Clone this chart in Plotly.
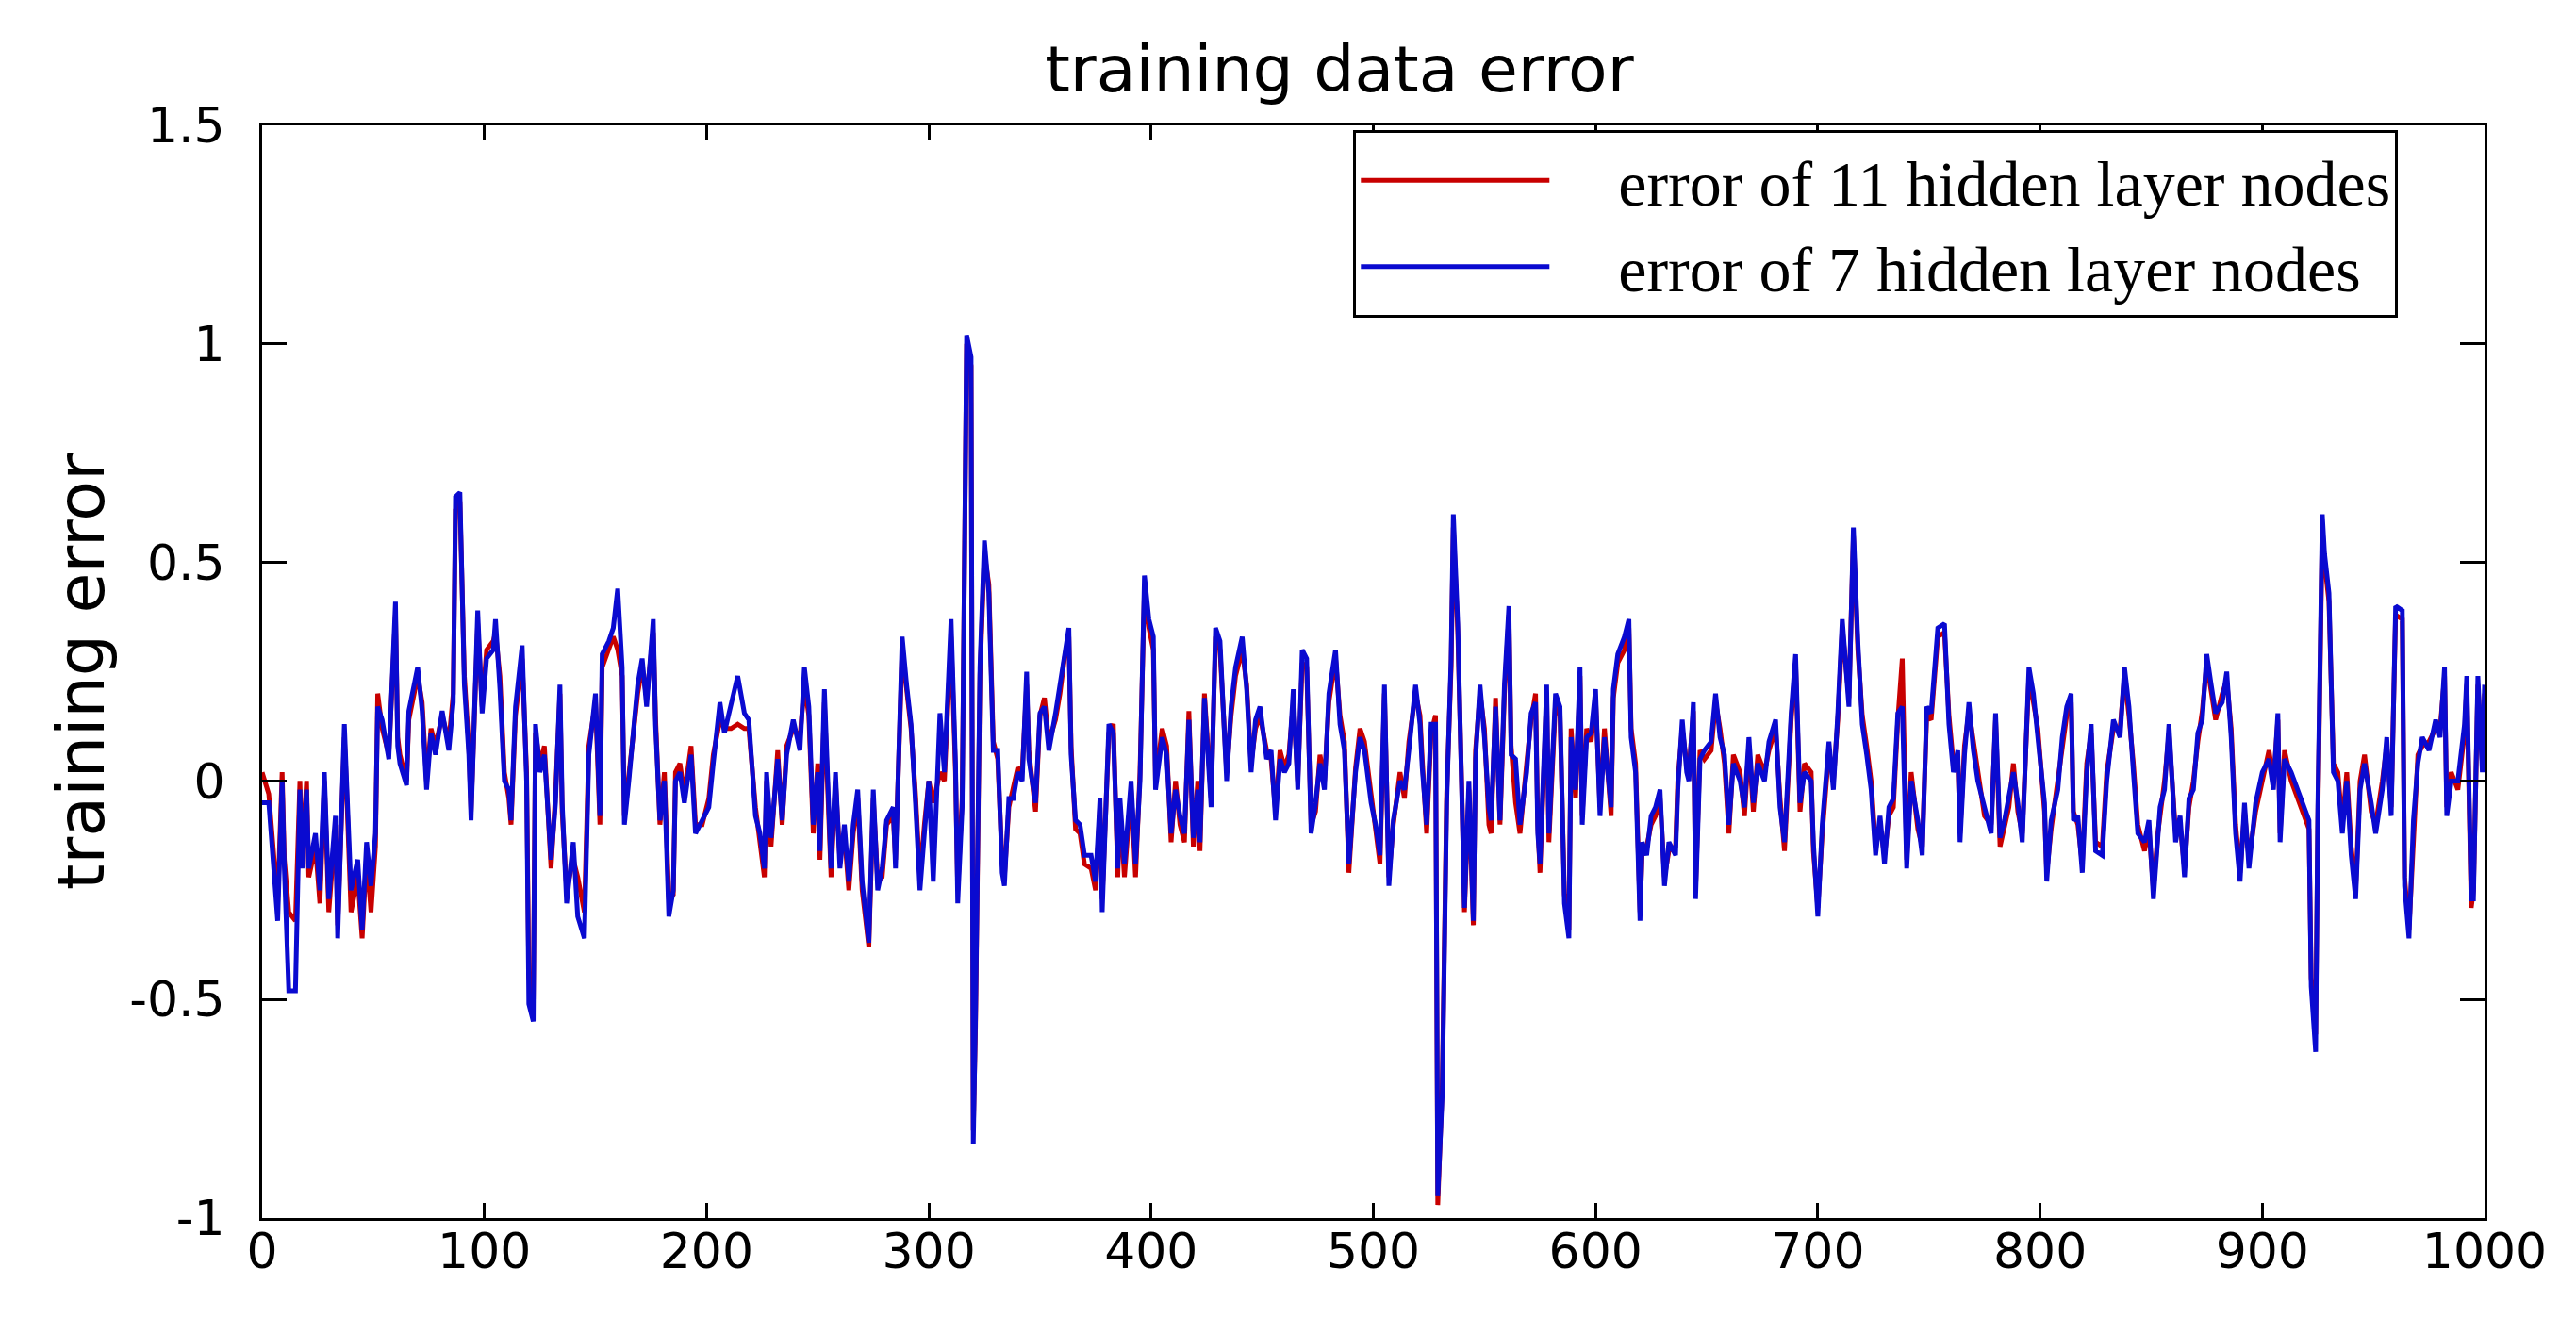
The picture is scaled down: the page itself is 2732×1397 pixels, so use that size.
import plotly.graph_objects as go

# sample index (x)
sample_idx = [
    0, 3, 7, 9, 10, 12, 15, 17, 18, 20,
    21, 24, 26, 28, 30, 33, 34, 37, 38, 40,
    43, 45, 47, 49, 51, 52, 54, 57, 60, 61,
    62, 65, 66, 70, 72, 74, 76, 78, 81, 84,
    86, 87, 89, 91, 93, 94, 97, 99, 101, 104,
    105, 107, 109, 111, 112, 114, 117, 119, 120, 122,
    123, 125, 127, 130, 132, 134, 135, 137, 140, 142,
    145, 147, 150, 152, 153, 156, 158, 160, 162, 163,
    165, 167, 169, 171, 173, 176, 177, 179, 181, 183,
    185, 186, 188, 190, 193, 195, 198, 201, 203, 206,
    208, 211, 214, 217, 219, 222, 224, 226, 227, 229,
    232, 234, 236, 239, 242, 244, 246, 248, 250, 251,
    253, 256, 258, 260, 262, 264, 266, 268, 270, 273,
    275, 277, 279, 281, 284, 285, 288, 290, 292, 294,
    296, 298, 300, 302, 305, 307, 310, 312, 313, 315,
    317, 319, 320, 321, 323, 325, 327, 329, 331, 333,
    334, 336, 338, 340, 342, 344, 345, 348, 350, 352,
    354, 357, 359, 361, 363, 364, 366, 368, 370, 373,
    375, 377, 378, 381, 383, 385, 386, 388, 391, 393,
    395, 397, 399, 401, 402, 405, 407, 409, 411, 413,
    415, 417, 419, 421, 422, 424, 427, 429, 431, 434,
    436, 438, 441, 443, 445, 447, 449, 452, 454, 456,
    458, 460, 462, 464, 466, 468, 470, 472, 474, 476,
    478, 480, 483, 485, 487, 489, 492, 494, 496, 499,
    501, 503, 505, 507, 509, 512, 514, 516, 519, 521,
    522, 524, 526, 528, 529, 531, 533, 535, 536, 538,
    540, 541, 543, 545, 546, 548, 550, 552, 553, 555,
    557, 559, 561, 562, 564, 566, 569, 571, 573, 574,
    575, 578, 579, 582, 584, 586, 588, 589, 591, 593,
    594, 596, 598, 600, 602, 604, 607, 608, 610, 613,
    615, 616, 618, 620, 621, 623, 625, 627, 629, 631,
    633, 636, 637, 639, 641, 642, 644, 645, 647, 649,
    652, 654, 656, 658, 660, 662, 665, 667, 669, 671,
    673, 676, 678, 681, 683, 685, 688, 690, 692, 694,
    697, 698, 700, 702, 705, 707, 709, 711, 714, 716,
    718, 720, 722, 724, 726, 728, 730, 732, 734, 736,
    738, 740, 742, 745, 747, 749, 751, 754, 757, 759,
    761, 763, 764, 766, 768, 770, 772, 775, 778, 780,
    782, 784, 786, 788, 790, 792, 795, 797, 799, 802,
    803, 805, 808, 810, 812, 814, 815, 817, 819, 821,
    823, 825, 828, 830, 833, 836, 838, 840, 842, 844,
    847, 849, 851, 853, 854, 856, 858, 861, 863, 865,
    867, 869, 871, 873, 875, 877, 879, 882, 884, 886,
    888, 890, 892, 894, 897, 900, 903, 905, 907, 908,
    910, 913, 916, 918, 921, 922, 924, 925, 927, 928,
    930, 932, 934, 936, 938, 940, 942, 944, 946, 949,
    951, 954, 956, 958, 960, 963, 964, 966, 968, 970,
    972, 975, 978, 980, 982, 983, 985, 988, 991, 992,
    994, 995, 997, 999, 1000,
]

# error of 11 hidden layer nodes (red)
err_11_nodes = [
    0.02, -0.03, -0.28, 0.02, -0.18, -0.3, -0.32, 0.0, -0.18, 0.0,
    -0.22, -0.15, -0.28, 0.0, -0.3, -0.1, -0.33, 0.1, -0.02, -0.3,
    -0.22, -0.36, -0.17, -0.3, -0.15, 0.2, 0.12, 0.06, 0.38, 0.1,
    0.06, 0.0, 0.14, 0.24, 0.18, 0.0, 0.12, 0.08, 0.15, 0.09,
    0.2, 0.62, 0.64, 0.24, 0.08, -0.07, 0.36, 0.17, 0.3, 0.32,
    0.34, 0.24, 0.02, -0.04, -0.1, 0.15, 0.28, 0.02, -0.45, -0.5,
    0.11, 0.04, 0.08, -0.2, -0.03, 0.2, -0.07, -0.25, -0.18, -0.22,
    -0.3, 0.08, 0.18, -0.1, 0.26, 0.3, 0.33, 0.3, 0.24, -0.08,
    0.02, 0.12, 0.2, 0.26, 0.19, 0.34, 0.15, -0.1, 0.02, -0.27,
    -0.26, 0.02, 0.04, -0.03, 0.08, -0.1, -0.1, -0.04, 0.06, 0.14,
    0.12, 0.12, 0.13, 0.12, 0.12, -0.06, -0.14, -0.22, 0.0, -0.15,
    0.07, -0.1, 0.08, 0.12, 0.1, 0.22, 0.15, -0.12, 0.04, -0.18,
    0.18, -0.22, 0.0, -0.18, -0.12, -0.25, -0.12, -0.04, -0.25, -0.38,
    -0.04, -0.23, -0.22, -0.1, -0.08, -0.18, 0.3, 0.2, 0.12, -0.03,
    -0.22, -0.1, 0.0, -0.05, 0.02, 0.0, 0.33, 0.02, -0.25, -0.04,
    1.0, 0.95, -0.8, -0.56, 0.24, 0.52, 0.45, 0.09, 0.05, -0.19,
    -0.22, -0.06, -0.02, 0.03, 0.02, 0.22, 0.07, -0.07, 0.15, 0.19,
    0.09, 0.14, 0.2, 0.28, 0.33, 0.08, -0.11, -0.12, -0.19, -0.2,
    -0.25, -0.06, -0.27, 0.11, 0.13, -0.22, -0.06, -0.22, -0.02, -0.22,
    0.02, 0.44, 0.35, 0.3, 0.0, 0.12, 0.08, -0.14, 0.0, -0.1,
    -0.14, 0.16, -0.15, 0.0, -0.16, 0.2, -0.04, 0.33, 0.3, 0.02,
    0.15, 0.24, 0.3, 0.22, 0.04, 0.12, 0.15, 0.07, 0.05, -0.07,
    0.07, 0.03, 0.06, 0.18, 0.0, 0.27, 0.26, -0.1, -0.07, 0.06,
    0.0, 0.18, 0.28, 0.15, 0.09, -0.21, 0.03, 0.12, 0.09, -0.03,
    -0.12, -0.19, 0.2, -0.22, -0.1, 0.02, -0.04, 0.09, 0.2, 0.15,
    0.05, -0.12, 0.11, 0.15, -0.97, -0.7, -0.03, 0.26, 0.58, 0.34,
    -0.06, -0.3, -0.02, -0.33, 0.07, 0.2, 0.12, -0.1, -0.12, 0.19,
    -0.1, 0.2, 0.38, 0.08, -0.05, -0.12, 0.04, 0.14, 0.2, -0.1,
    -0.21, 0.2, -0.14, 0.18, 0.15, -0.26, -0.34, 0.12, -0.04, 0.24,
    -0.08, 0.12, 0.09, 0.19, -0.06, 0.12, -0.08, 0.19, 0.27, 0.3,
    0.35, 0.12, 0.04, -0.3, -0.16, -0.15, -0.1, -0.08, -0.04, -0.22,
    -0.16, -0.15, 0.0, 0.12, 0.04, 0.02, 0.16, -0.25, 0.07, 0.05,
    0.07, 0.18, 0.12, 0.04, -0.12, 0.06, 0.02, -0.08, 0.08, -0.07,
    0.06, 0.02, 0.07, 0.12, -0.04, -0.16, 0.14, 0.27, -0.07, 0.04,
    0.02, -0.16, -0.29, -0.12, 0.07, 0.0, 0.14, 0.35, 0.19, 0.56,
    0.3, 0.15, 0.08, 0.0, -0.15, -0.1, -0.17, -0.08, -0.06, 0.14,
    0.28, -0.18, 0.02, -0.11, -0.15, 0.15, 0.14, 0.33, 0.34, 0.15,
    0.04, 0.05, -0.12, 0.08, 0.16, 0.09, 0.02, -0.08, -0.1, 0.14,
    -0.15, -0.11, -0.06, 0.04, -0.07, -0.12, 0.24, 0.18, 0.12, -0.07,
    -0.21, -0.11, 0.0, 0.08, 0.15, 0.18, -0.07, -0.1, -0.19, 0.04,
    0.11, -0.14, -0.15, 0.02, 0.12, 0.12, 0.24, 0.15, 0.04, -0.1,
    -0.16, -0.11, -0.25, -0.12, -0.08, 0.0, 0.11, -0.12, -0.1, -0.2,
    -0.06, 0.0, 0.09, 0.16, 0.27, 0.2, 0.14, 0.2, 0.23, 0.12,
    -0.1, -0.21, -0.07, -0.18, -0.07, 0.0, 0.07, 0.0, 0.14, -0.12,
    0.07, 0.0, -0.04, -0.07, -0.11, -0.45, -0.58, -0.08, 0.58, 0.5,
    0.41, 0.04, 0.02, -0.1, 0.02, -0.15, -0.25, 0.0, 0.06, -0.07,
    -0.1, 0.0, 0.08, -0.06, 0.38, 0.37, -0.22, -0.34, -0.11, 0.06,
    0.08, 0.09, 0.12, 0.12, 0.24, -0.06, 0.02, -0.02, 0.11, 0.22,
    -0.29, -0.25, 0.22, 0.04, 0.2,
]

# error of 7 hidden layer nodes (blue)
err_7_nodes = [
    -0.05, -0.05, -0.32, 0.0, -0.2, -0.48, -0.48, -0.02, -0.2, -0.02,
    -0.2, -0.12, -0.25, 0.02, -0.27, -0.08, -0.36, 0.13, 0.0, -0.25,
    -0.18, -0.34, -0.14, -0.24, -0.12, 0.17, 0.14, 0.05, 0.41, 0.08,
    0.04, -0.01, 0.16, 0.26, 0.16, -0.02, 0.11, 0.06, 0.16, 0.07,
    0.18, 0.65, 0.66, 0.22, 0.06, -0.09, 0.39, 0.155, 0.28, 0.3,
    0.37, 0.21, 0.0, -0.02, -0.09, 0.17, 0.31, 0.0, -0.51, -0.55,
    0.13, 0.02, 0.06, -0.18, -0.05, 0.22, -0.05, -0.28, -0.14, -0.31,
    -0.36, 0.06, 0.2, -0.08, 0.29, 0.32, 0.35, 0.44, 0.26, -0.1,
    0.0, 0.1, 0.22, 0.28, 0.17, 0.37, 0.13, -0.09, 0.0, -0.31,
    -0.25, 0.0, 0.02, -0.05, 0.06, -0.12, -0.09, -0.06, 0.04, 0.18,
    0.11, 0.18, 0.24, 0.155, 0.14, -0.08, -0.12, -0.2, 0.02, -0.13,
    0.05, -0.09, 0.06, 0.14, 0.07, 0.26, 0.17, -0.1, 0.02, -0.16,
    0.21, -0.2, 0.02, -0.2, -0.1, -0.23, -0.1, -0.02, -0.23, -0.37,
    -0.02, -0.25, -0.2, -0.09, -0.06, -0.2, 0.33, 0.22, 0.13, -0.05,
    -0.25, -0.12, 0.0, -0.23, 0.155, 0.02, 0.37, 0.04, -0.28, -0.06,
    1.02, 0.97, -0.83, -0.54, 0.26, 0.55, 0.43, 0.07, 0.07, -0.21,
    -0.24, -0.04, -0.04, 0.02, 0.0, 0.25, 0.05, -0.05, 0.155, 0.17,
    0.07, 0.155, 0.22, 0.3, 0.35, 0.06, -0.09, -0.1, -0.17, -0.17,
    -0.23, -0.04, -0.3, 0.13, 0.11, -0.2, -0.04, -0.19, 0.0, -0.19,
    0.0, 0.47, 0.37, 0.33, -0.02, 0.1, 0.06, -0.12, -0.02, -0.08,
    -0.12, 0.14, -0.13, -0.02, -0.14, 0.19, -0.06, 0.35, 0.32, 0.0,
    0.17, 0.26, 0.33, 0.21, 0.02, 0.14, 0.17, 0.05, 0.07, -0.09,
    0.05, 0.02, 0.04, 0.21, -0.02, 0.3, 0.28, -0.12, -0.05, 0.04,
    -0.02, 0.2, 0.3, 0.13, 0.07, -0.19, 0.02, 0.1, 0.07, -0.05,
    -0.1, -0.17, 0.22, -0.24, -0.09, 0.0, -0.02, 0.07, 0.22, 0.13,
    0.03, -0.1, 0.13, 0.13, -0.95, -0.72, -0.05, 0.28, 0.61, 0.36,
    -0.08, -0.29, 0.0, -0.32, 0.05, 0.22, 0.1, -0.06, -0.09, 0.17,
    -0.09, 0.22, 0.4, 0.06, 0.05, -0.1, 0.02, 0.155, 0.18, -0.12,
    -0.19, 0.22, -0.12, 0.2, 0.17, -0.28, -0.36, 0.1, -0.02, 0.26,
    -0.1, 0.1, 0.11, 0.21, -0.08, 0.1, -0.06, 0.21, 0.29, 0.33,
    0.37, 0.1, 0.02, -0.32, -0.14, -0.17, -0.08, -0.06, -0.02, -0.24,
    -0.14, -0.17, -0.02, 0.14, 0.02, 0.0, 0.18, -0.27, 0.05, 0.07,
    0.09, 0.2, 0.1, 0.06, -0.1, 0.04, 0.0, -0.06, 0.1, -0.05,
    0.04, 0.0, 0.09, 0.14, -0.06, -0.14, 0.155, 0.29, -0.05, 0.02,
    0.0, -0.14, -0.31, -0.1, 0.09, -0.02, 0.155, 0.37, 0.17, 0.58,
    0.32, 0.13, 0.06, -0.02, -0.17, -0.08, -0.19, -0.06, -0.04, 0.155,
    0.17, -0.2, 0.0, -0.09, -0.17, 0.17, 0.155, 0.35, 0.36, 0.13,
    0.02, 0.07, -0.14, 0.06, 0.18, 0.07, 0.0, -0.06, -0.12, 0.155,
    -0.13, -0.09, -0.04, 0.02, -0.05, -0.14, 0.26, 0.2, 0.1, -0.05,
    -0.23, -0.09, -0.02, 0.1, 0.17, 0.2, -0.09, -0.08, -0.21, 0.02,
    0.13, -0.16, -0.17, 0.0, 0.14, 0.1, 0.26, 0.17, 0.02, -0.12,
    -0.14, -0.09, -0.27, -0.14, -0.06, -0.02, 0.13, -0.14, -0.08, -0.22,
    -0.04, -0.02, 0.11, 0.14, 0.29, 0.22, 0.155, 0.18, 0.25, 0.1,
    -0.12, -0.23, -0.05, -0.2, -0.05, 0.02, 0.05, -0.02, 0.155, -0.14,
    0.05, 0.02, -0.02, -0.05, -0.09, -0.47, -0.62, -0.06, 0.61, 0.52,
    0.43, 0.02, 0.0, -0.12, 0.0, -0.17, -0.27, -0.02, 0.04, -0.05,
    -0.12, -0.02, 0.1, -0.08, 0.4, 0.39, -0.24, -0.36, -0.09, 0.04,
    0.1, 0.07, 0.14, 0.1, 0.26, -0.08, 0.0, 0.0, 0.13, 0.24,
    -0.27, -0.27, 0.24, 0.02, 0.22,
]

x_ticks = [0, 100, 200, 300, 400, 500, 600, 700, 800, 900, 1000]
y_ticks = [-1, -0.5, 0, 0.5, 1, 1.5]
y_tick_text = ["-1", "-0.5", "0", "0.5", "1", "1.5"]

assert len(sample_idx) == len(err_11_nodes) == len(err_7_nodes)

GAP = "\u00a0\u00a0\u00a0\u00a0"

fig = go.Figure()
fig.add_trace(go.Scatter(
    x=sample_idx, y=err_11_nodes, mode="lines",
    name=GAP + "error of 11 hidden layer nodes",
    line=dict(color="#c80000", width=5),
))
fig.add_trace(go.Scatter(
    x=sample_idx, y=err_7_nodes, mode="lines",
    name=GAP + "error of 7 hidden layer nodes",
    line=dict(color="#0a0ad0", width=5),
))

axis_common = dict(
    showline=True, linecolor="black", linewidth=3, mirror="ticks",
    ticks="inside", tickcolor="black", tickwidth=3,
    showgrid=False, zeroline=False,
    tickfont=dict(family="DejaVu Sans", size=52, color="black"),
)

fig.update_layout(
    width=2732, height=1397,
    paper_bgcolor="white", plot_bgcolor="white",
    margin=dict(l=270, r=105, t=125, b=113, autoexpand=False),
    title=dict(
        text="training data error",
        font=dict(family="DejaVu Sans", size=68, color="black"),
        x=0.517, xanchor="center", y=0.953, yanchor="middle",
    ),
    xaxis=dict(range=[0, 1000], tickvals=x_ticks, ticklen=16,
               ticklabelstandoff=-12, **axis_common),
    yaxis=dict(range=[-1, 1.5], tickvals=y_ticks, ticktext=y_tick_text,
               ticklen=26, ticklabelstandoff=26,
               title=dict(text="training error", standoff=4,
                          font=dict(family="DejaVu Sans", size=70, color="black")),
               **axis_common),
    legend=dict(
        x=0.491, y=0.996, xanchor="left", yanchor="top",
        bgcolor="white", bordercolor="black", borderwidth=3,
        font=dict(family="Liberation Serif", size=68, color="black"),
        itemwidth=200,
    ),
    showlegend=True,
)

fig.write_html("out.html")
